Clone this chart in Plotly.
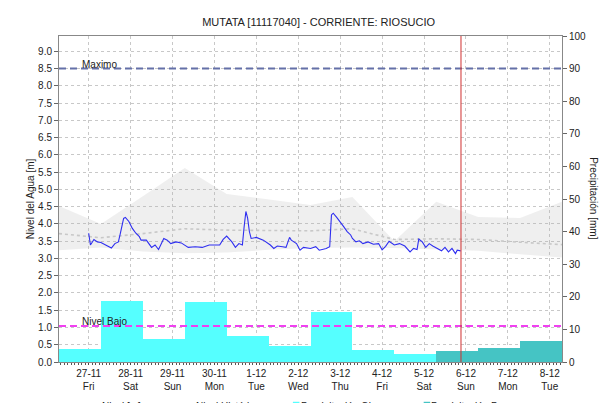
import pandas as pd
import plotly.graph_objects as go

# ---------------- data ----------------
title = "MUTATA [11117040] - CORRIENTE: RIOSUCIO"

level_times = [
    "2020-11-27 00:00", "2020-11-27 01:00", "2020-11-27 03:00", "2020-11-27 05:00",
    "2020-11-27 07:00", "2020-11-27 09:00", "2020-11-27 10:00", "2020-11-27 13:00",
    "2020-11-27 15:00", "2020-11-27 17:00", "2020-11-27 18:00", "2020-11-27 19:00",
    "2020-11-27 20:00", "2020-11-27 21:00", "2020-11-27 23:00", "2020-11-28 01:00",
    "2020-11-28 03:00", "2020-11-28 05:00", "2020-11-28 06:00", "2020-11-28 09:00",
    "2020-11-28 12:00", "2020-11-28 14:00", "2020-11-28 16:00", "2020-11-28 19:00",
    "2020-11-28 21:00", "2020-11-28 23:00", "2020-11-29 02:00", "2020-11-29 05:00",
    "2020-11-29 09:00", "2020-11-29 13:00", "2020-11-29 17:00", "2020-11-29 21:00",
    "2020-11-30 00:00", "2020-11-30 03:00", "2020-11-30 05:00", "2020-11-30 07:00",
    "2020-11-30 10:00", "2020-11-30 12:00", "2020-11-30 14:00", "2020-11-30 16:00",
    "2020-11-30 17:00", "2020-11-30 18:00", "2020-11-30 19:00", "2020-11-30 20:00",
    "2020-11-30 21:00", "2020-12-01 00:00", "2020-12-01 04:00", "2020-12-01 08:00",
    "2020-12-01 10:00", "2020-12-01 12:00", "2020-12-01 15:00", "2020-12-01 17:00",
    "2020-12-01 19:00", "2020-12-01 20:00", "2020-12-01 23:00", "2020-12-02 01:00",
    "2020-12-02 03:00", "2020-12-02 07:00", "2020-12-02 10:00", "2020-12-02 12:00",
    "2020-12-02 16:00", "2020-12-02 18:00", "2020-12-02 19:00", "2020-12-02 20:00",
    "2020-12-02 22:00", "2020-12-03 00:00", "2020-12-03 02:00", "2020-12-03 04:00",
    "2020-12-03 06:00", "2020-12-03 07:00", "2020-12-03 09:00", "2020-12-03 11:00",
    "2020-12-03 13:00", "2020-12-03 16:00", "2020-12-03 19:00", "2020-12-03 22:00",
    "2020-12-04 00:00", "2020-12-04 02:00", "2020-12-04 04:00", "2020-12-04 07:00",
    "2020-12-04 10:00", "2020-12-04 13:00", "2020-12-04 16:00", "2020-12-04 18:00",
    "2020-12-04 20:00", "2020-12-04 21:00", "2020-12-04 23:00", "2020-12-05 01:00",
    "2020-12-05 03:00", "2020-12-05 05:00", "2020-12-05 08:00", "2020-12-05 10:00",
    "2020-12-05 12:00", "2020-12-05 14:00", "2020-12-05 16:00", "2020-12-05 18:00",
    "2020-12-05 19:00", "2020-12-05 21:00",
]
level_values = [
    3.73, 3.39, 3.55, 3.48,
    3.46, 3.41, 3.39, 3.30,
    3.43, 3.48, 3.70, 3.95,
    4.16, 4.19, 4.07, 3.87,
    3.73, 3.63, 3.53, 3.53,
    3.32, 3.39, 3.26, 3.58,
    3.53, 3.43, 3.48, 3.45,
    3.32, 3.34, 3.32, 3.39,
    3.39, 3.39, 3.55, 3.65,
    3.48, 3.32, 3.43, 3.39,
    3.92, 4.36, 4.17, 3.78,
    3.58, 3.61, 3.53, 3.39,
    3.29, 3.36, 3.34, 3.32,
    3.61, 3.53, 3.43, 3.24,
    3.32, 3.29, 3.34, 3.24,
    3.29, 3.34, 4.26, 4.31,
    4.19, 4.07, 3.92, 3.78,
    3.68, 3.58, 3.48, 3.51,
    3.43, 3.48, 3.41, 3.43,
    3.25, 3.35, 3.50, 3.39,
    3.43, 3.36, 3.19, 3.29,
    3.26, 3.56, 3.48, 3.32,
    3.43, 3.36, 3.29, 3.22,
    3.32, 3.19, 3.29, 3.14,
    3.24, 3.22,
]

band_times = [
    "2020-11-26 07:00", "2020-11-27 07:00", "2020-11-28 07:00", "2020-11-29 07:00",
    "2020-11-30 07:00", "2020-12-01 07:00", "2020-12-02 07:00", "2020-12-03 07:00",
    "2020-12-04 07:00", "2020-12-05 07:00", "2020-12-06 07:00", "2020-12-07 07:00",
    "2020-12-08 07:00",
]
band_upper = [4.52, 4.00, 4.80, 5.62, 4.87, 4.70, 4.55, 4.78, 3.50, 4.64, 4.20, 4.17, 4.64]
band_lower = [3.24, 3.32, 3.20, 3.15, 3.17, 3.25, 3.30, 3.32, 3.30, 3.25, 3.22, 3.12, 3.03]
band_mean = [3.72, 3.60, 3.72, 3.86, 3.82, 3.80, 3.80, 3.86, 3.55, 3.57, 3.55, 3.47, 3.40]

rain_obs_start = ["2020-11-26 07:00", "2020-11-27 07:00", "2020-11-28 07:00",
                  "2020-11-29 07:00", "2020-11-30 07:00", "2020-12-01 07:00",
                  "2020-12-02 07:00", "2020-12-03 07:00", "2020-12-04 07:00"]
rain_obs = [3.9, 18.7, 7.1, 18.4, 8.0, 5.0, 15.4, 3.7, 2.4]
rain_fc_start = ["2020-12-05 07:00", "2020-12-06 07:00", "2020-12-07 07:00"]
rain_fc = [3.4, 4.2, 6.4]

tick_days = ["2020-11-27", "2020-11-28", "2020-11-29", "2020-11-30", "2020-12-01",
             "2020-12-02", "2020-12-03", "2020-12-04", "2020-12-05", "2020-12-06",
             "2020-12-07", "2020-12-08"]

legend_labels = ["Nivel [m]", "Nivel Histórico", "Precipitación Obs.", "Precipitación Pron."]

nivel_maximo = 8.5
nivel_bajo = 1.045
now_time = "2020-12-05 21:10"
x_range = ["2020-11-26 07:00", "2020-12-08 07:00"]

# ---------------- figure ----------------
FONT = "Liberation Sans, Arial, sans-serif"
day_ms = 24 * 3600 * 1000
COL_OBS = "#55FFFF"
COL_FC = "#45C4C4"

obs_centers = pd.to_datetime(rain_obs_start) + pd.Timedelta(hours=12)
fc_centers = pd.to_datetime(rain_fc_start) + pd.Timedelta(hours=12)
tick_dt = pd.to_datetime(tick_days)
tick_text = [f"{d.day}-{d.month}<br>{d.strftime('%a')}" for d in tick_dt]

fig = go.Figure()

fig.add_trace(go.Bar(x=obs_centers, y=rain_obs, width=day_ms, yaxis="y2",
                     marker=dict(color=COL_OBS, line=dict(width=0)),
                     name=legend_labels[2]))
fig.add_trace(go.Bar(x=fc_centers, y=rain_fc, width=day_ms, yaxis="y2",
                     marker=dict(color=COL_FC, line=dict(width=0)),
                     name=legend_labels[3]))

fig.add_trace(go.Scatter(x=band_times, y=band_lower, mode="lines",
                         line=dict(width=0), hoverinfo="skip"))
fig.add_trace(go.Scatter(x=band_times, y=band_upper, mode="lines",
                         line=dict(width=0), fill="tonexty",
                         fillcolor="rgba(175,175,175,0.2)", hoverinfo="skip"))
fig.add_trace(go.Scatter(x=band_times, y=band_mean, mode="lines",
                         line=dict(color="rgb(200,200,200)", width=1.6, dash="dot"),
                         name=legend_labels[1]))
fig.add_trace(go.Scatter(x=level_times, y=level_values, mode="lines",
                         line=dict(color="#2E2EF0", width=1.1),
                         name=legend_labels[0]))

fig.update_layout(
    width=615, height=403,
    margin=dict(l=51, r=61, t=28, b=49),
    paper_bgcolor="white", plot_bgcolor="white",
    font=dict(family=FONT, size=10, color="#222222"),
    title=dict(text=title, x=0.505, xanchor="center", y=0.965, yanchor="middle",
               font=dict(family=FONT, size=11, color="#222222")),
    bargap=0,
    showlegend=False,
    xaxis=dict(type="date", range=x_range, tickvals=tick_dt, ticktext=tick_text,
               showgrid=True, gridcolor="#C8C8C8", griddash="dot", gridwidth=1,
               showline=True, linecolor="#888888", mirror=True,
               ticks="outside", ticklen=2, tickcolor="#444444",
               minor=dict(dtick=2 * 3600 * 1000, ticks="outside", ticklen=2,
                          tickcolor="#555555", showgrid=False),
               tickfont=dict(size=10), zeroline=False),
    yaxis=dict(range=[0, nivel_maximo / 0.9], dtick=0.5, tick0=0, tickformat=".1f",
               showgrid=True, gridcolor="#C8C8C8", griddash="dot", gridwidth=1,
               showline=True, linecolor="#888888", mirror=True,
               ticks="outside", ticklen=4, tickcolor="#666666",
               zeroline=False, tickfont=dict(size=10)),
    yaxis2=dict(range=[0, 100], dtick=10, overlaying="y", side="right",
                showgrid=False, showline=True, linecolor="#888888",
                ticks="outside", ticklen=4, tickcolor="#666666",
                zeroline=False, tickfont=dict(size=10)),
)

fig.add_shape(type="line", xref="paper", x0=0, x1=1, yref="y",
              y0=nivel_maximo, y1=nivel_maximo,
              line=dict(color="#6470A8", width=2, dash="7px,4px"))
fig.add_shape(type="line", xref="paper", x0=0, x1=1, yref="y",
              y0=nivel_bajo, y1=nivel_bajo,
              line=dict(color="#F040F0", width=2, dash="7px,4px"))
fig.add_shape(type="line", xref="x", x0=now_time, x1=now_time, yref="paper",
              y0=0, y1=1, line=dict(color="#D03030", width=1))

fig.add_annotation(text="Maximo", xref="paper", x=0.042, xanchor="left",
                   yref="y", y=nivel_maximo, yanchor="bottom", yshift=-3,
                   showarrow=False, font=dict(size=10, color="#222222"))
fig.add_annotation(text="Nivel Bajo", xref="paper", x=0.042, xanchor="left",
                   yref="y", y=nivel_bajo, yanchor="bottom", yshift=-3,
                   showarrow=False, font=dict(size=10, color="#222222"))

fig.add_annotation(text="Nivel del Agua [m]", xref="paper", x=-0.057,
                   xanchor="center", yref="paper", y=0.5, yanchor="middle",
                   textangle=-90, showarrow=False, font=dict(size=10))
fig.add_annotation(text="Precipitación [mm]", xref="paper", x=1.062,
                   xanchor="center", yref="paper", y=0.502, yanchor="middle",
                   textangle=90, showarrow=False, font=dict(size=10))

# legend row (mostly below the visible page, as in the reference)
leg_y = -0.117
leg_text_x = [0.083, 0.271, 0.48, 0.738]
for lbl, lx in zip(legend_labels, leg_text_x):
    fig.add_annotation(text=lbl, xref="paper", x=lx, xanchor="left",
                       yref="paper", y=leg_y, yanchor="top", showarrow=False,
                       borderpad=0, font=dict(size=10, color="#222222"))
for col, sx in zip([COL_OBS, COL_FC], [0.465, 0.725]):
    fig.add_shape(type="rect", xref="paper", yref="paper",
                  x0=sx, x1=sx + 0.013, y0=leg_y - 0.03, y1=leg_y - 0.005,
                  fillcolor=col, line=dict(width=0))

fig.write_html("out.html")
